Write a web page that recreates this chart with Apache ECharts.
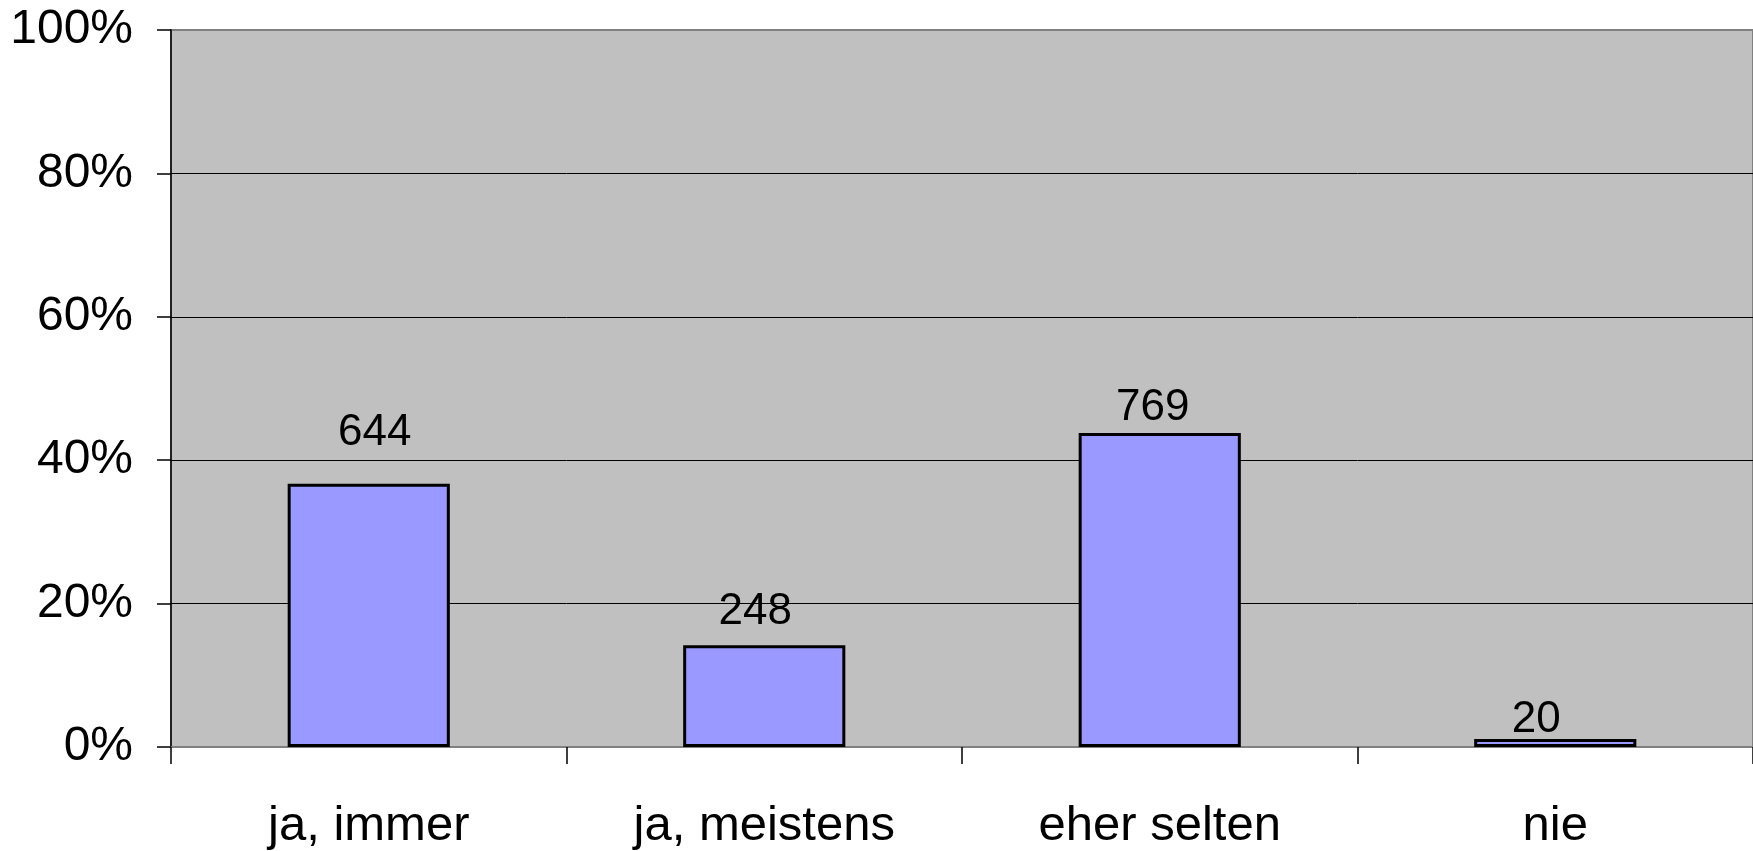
<!DOCTYPE html>
<html>
<head>
<meta charset="utf-8">
<script src="https://cdn.jsdelivr.net/npm/echarts@6/dist/echarts.min.js"></script>
<style>
html,body{margin:0;padding:0;background:#fff;}
#chart{width:1753px;height:851px;}
</style>
</head>
<body>
<div id="chart"></div>
<script>
// Data
const categories = ['ja, immer', 'ja, meistens', 'eher selten', 'nie'];
const percentValues = [36.7, 14.2, 43.8, 1.1];   // bar heights in %
const countLabels = [644, 248, 769, 20];          // numbers printed above bars
const yTicks = [0, 20, 40, 60, 80, 100];

// label placement tweaks above each bar (style only)
const labelGap = [29, 11, 3, -3];
const labelShiftX = [6, -9, -7, -19];

const FONT = "'Liberation Sans', Arial, sans-serif";

const chart = echarts.init(document.getElementById('chart'));
chart.setOption({
  animation: false,
  backgroundColor: '#ffffff',
  grid: {
    left: 171, right: 0, top: 30, bottom: 104,
    show: true, backgroundColor: '#C0C0C0', borderColor: '#808080', borderWidth: 2,
    containLabel: false
  },
  xAxis: {
    type: 'category',
    data: categories,
    axisLine: { show: true, lineStyle: { color: '#808080', width: 2 } },
    axisTick: { show: true, alignWithLabel: false, interval: 0, length: 17, lineStyle: { color: '#000', width: 1.5 } },
    axisLabel: { interval: 0, fontSize: 49, color: '#000', fontFamily: FONT, margin: 55 },
    splitLine: { show: false }
  },
  yAxis: {
    type: 'value',
    min: yTicks[0], max: yTicks[yTicks.length - 1], interval: yTicks[1] - yTicks[0],
    axisLine: { show: true, lineStyle: { color: '#000', width: 1.5 } },
    axisTick: { show: true, length: 14, lineStyle: { color: '#000', width: 1.5 } },
    axisLabel: { formatter: '{value}%', fontSize: 48, color: '#000', fontFamily: FONT, margin: 38 },
    splitLine: { show: true, showMinLine: false, showMaxLine: false, lineStyle: { color: '#000', width: 1 } }
  },
  series: [{
    type: 'bar',
    barWidth: '41%',
    data: percentValues.map((v, i) => ({
      value: v,
      label: { distance: labelGap[i], offset: [labelShiftX[i], 0] }
    })),
    itemStyle: { color: '#9999FF', borderColor: '#000', borderWidth: 3 },
    label: {
      show: true, position: 'top',
      formatter: p => String(countLabels[p.dataIndex]),
      fontSize: 44, color: '#000', fontFamily: FONT
    }
  }]
});
</script>
</body>
</html>
